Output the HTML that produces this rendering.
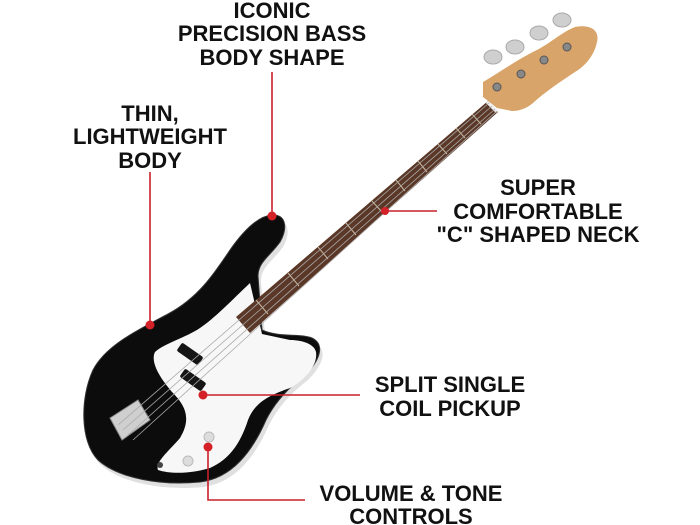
<!DOCTYPE html>
<html><head><meta charset="utf-8"><style>
html,body{margin:0;padding:0;background:#fff;width:700px;height:525px;overflow:hidden}
svg{display:block}
text{font-family:"Liberation Sans",sans-serif;font-weight:bold;font-size:22px;fill:#111;text-anchor:middle}
</style></head><body>
<svg width="700" height="525" viewBox="0 0 700 525" xmlns="http://www.w3.org/2000/svg">
<!-- body shadow -->
<path d="M272,215 C286,214 288,228 280,242 C270,256 258,262 258,276 L262,330 C280,338 298,333 312,338 C324,344 322,358 305,375 C288,388 275,402 266,420 C252,452 232,478 200,482 C160,486 118,478 98,460 C80,442 80,398 93,370 C106,345 138,330 168,314 C198,298 214,274 230,250 C244,230 258,216 272,215 Z" fill="#000" opacity="0.12" transform="translate(3,5)"/>
<!-- body -->
<path d="M272,215 C286,214 288,228 280,242 C270,256 258,262 258,276 L262,330 C280,338 298,333 312,338 C324,344 322,358 305,375 C288,388 275,402 266,420 C252,452 232,478 200,482 C160,486 118,478 98,460 C80,442 80,398 93,370 C106,345 138,330 168,314 C198,298 214,274 230,250 C244,230 258,216 272,215 Z" fill="#0c0c0c" stroke="#333" stroke-width="1"/>
<!-- pickguard -->
<path d="M250,283 C232,300 215,318 200,328 C185,338 165,343 155,352 C150,362 160,378 172,392 C185,405 192,418 180,438 C168,452 155,462 158,470 C170,474 190,474 210,468 C228,460 240,445 248,420 C255,402 270,395 290,388 C305,380 318,365 316,352 C314,343 300,340 290,340 L262,334 Z" fill="#f7f7f7"/>
<!-- pickups -->
<rect x="177" y="349" width="26" height="10" rx="2" fill="#151515" transform="rotate(35 190 354)"/>
<rect x="180" y="375" width="26" height="10" rx="2" fill="#151515" transform="rotate(35 193 380)"/>
<!-- controls -->
<circle cx="209" cy="437" r="5" fill="#ddd" stroke="#bbb"/>
<circle cx="188" cy="461" r="5" fill="#ddd" stroke="#bbb"/>
<circle cx="160" cy="465" r="3" fill="#444"/>
<!-- bridge -->
<path d="M110,418 L138,400 L150,420 L122,440 Z" fill="#cfcfcf" stroke="#888"/>
<!-- neck -->
<polygon points="236,317 488,101 498,112 250,333" fill="#5a3726"/>
<g stroke="#c9b9a0" stroke-width="1">
<line x1="256" y1="300" x2="268" y2="314"/><line x1="288" y1="273" x2="299" y2="286"/>
<line x1="318" y1="247" x2="328" y2="259"/><line x1="346" y1="223" x2="356" y2="235"/>
<line x1="372" y1="201" x2="382" y2="212"/><line x1="396" y1="180" x2="405" y2="191"/>
<line x1="418" y1="161" x2="427" y2="172"/><line x1="438" y1="144" x2="447" y2="154"/>
<line x1="456" y1="128" x2="465" y2="138"/><line x1="472" y1="114" x2="481" y2="124"/>
</g>
<!-- headstock -->
<path d="M483,97 L483,82 C500,72 520,58 537,50 C552,42 562,32 575,27 C590,24 600,30 597,42 C594,56 585,66 575,72 C560,82 545,92 533,103 C527,108 520,111 512,111 L497,108 Z" fill="#d9a469"/>
<g fill="#cfcfcf" stroke="#aaa">
<ellipse cx="493" cy="57" rx="9" ry="7"/><ellipse cx="515" cy="47" rx="9" ry="7"/>
<ellipse cx="539" cy="33" rx="9" ry="7"/><ellipse cx="562" cy="20" rx="9" ry="7"/>
</g>
<g fill="#888" stroke="#555"><circle cx="497" cy="87" r="4"/><circle cx="521" cy="74" r="4"/><circle cx="544" cy="60" r="4"/><circle cx="567" cy="47" r="4"/></g>
<line x1="487" y1="102" x2="497" y2="112" stroke="#eee" stroke-width="3"/>
<!-- strings -->
<g stroke="#aaa" stroke-width="0.8">
<line x1="118" y1="425" x2="489" y2="103"/><line x1="123" y1="430" x2="492" y2="106"/>
<line x1="128" y1="435" x2="495" y2="109"/><line x1="133" y1="440" x2="497" y2="111"/>
</g>
<!-- red callouts -->
<g stroke="#c8202a" stroke-width="1.6" fill="none">
<line x1="272" y1="72" x2="272" y2="216"/>
<line x1="150" y1="172" x2="150" y2="325"/>
<line x1="385" y1="211" x2="437" y2="211"/>
<line x1="203" y1="395" x2="360" y2="395"/>
<polyline points="208,447 208,500 305,500"/>
</g>
<g fill="#d42027"><circle cx="272" cy="216" r="4.5"/><circle cx="150" cy="325" r="4.5"/><circle cx="385" cy="211" r="4"/><circle cx="203" cy="395" r="4.5"/><circle cx="208" cy="447" r="4.5"/></g>
<!-- labels -->
<text x="272" y="18">ICONIC</text>
<text x="272" y="41">PRECISION BASS</text>
<text x="272" y="65">BODY SHAPE</text>
<text x="150" y="121">THIN,</text>
<text x="150" y="144">LIGHTWEIGHT</text>
<text x="150" y="168">BODY</text>
<text x="538" y="195">SUPER</text>
<text x="538" y="219">COMFORTABLE</text>
<text x="538" y="242">"C" SHAPED NECK</text>
<text x="450" y="392">SPLIT SINGLE</text>
<text x="450" y="416">COIL PICKUP</text>
<text x="411" y="501">VOLUME &amp; TONE</text>
<text x="411" y="524">CONTROLS</text>
</svg>
</body></html>
